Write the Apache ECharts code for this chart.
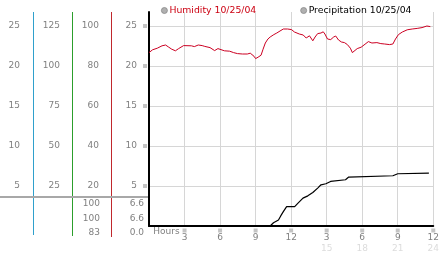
<!DOCTYPE html>
<html>
<head>
<meta charset="utf-8">
<script src="https://cdn.jsdelivr.net/npm/echarts@6/dist/echarts.min.js"></script>
<style>html,body{margin:0;padding:0;background:#fff;}#c{width:442px;height:253px;}</style>
</head>
<body>
<div id="c"></div>
<script>
// ---- data ----
const humidityHours = [0.0,0.3,0.7,1.1,1.4,1.67,1.92,2.23,2.5,2.92,3.58,3.83,4.16,4.49,4.71,5.15,5.54,5.82,6.37,6.81,7.14,7.47,7.89,8.3,8.55,8.86,9.0,9.21,9.46,9.63,9.82,10.04,10.23,10.54,10.79,11.06,11.34,11.7,12.03,12.28,12.69,13.02,13.27,13.55,13.83,14.02,14.24,14.52,14.71,14.85,15.07,15.34,15.59,15.76,16.0,16.25,16.5,16.75,17.0,17.17,17.33,17.58,17.91,18.24,18.52,18.82,19.24,19.57,19.9,20.31,20.59,20.81,21.06,21.39,21.8,22.22,22.64,23.05,23.46,23.75];
const humidity = [86.7,88.1,88.9,90.1,90.5,89.4,88.4,87.6,88.7,90.2,90.1,89.7,90.5,90.2,89.8,89.2,87.7,88.7,87.6,87.4,86.7,86.2,86.0,86.0,86.4,84.9,83.7,84.4,85.4,88.4,91.5,93.5,94.5,95.7,96.5,97.5,98.5,98.5,98.2,97.0,96.0,95.5,94.0,95.1,92.6,94.5,96.2,96.5,97.1,96.0,93.5,93.2,94.5,95.0,93.0,92.0,91.7,90.7,88.9,86.7,87.4,88.7,89.4,90.9,92.2,91.5,91.7,91.2,91.0,90.7,91.0,93.5,95.7,97.0,98.1,98.5,98.8,99.2,100.0,99.7];
const precipHours = [0,10.23,10.51,10.93,11.12,11.34,11.62,12.30,12.58,13.0,13.41,13.83,14.24,14.52,14.93,15.33,16.59,16.86,20.59,21.0,23.63];
const precip = [0,0,0.41,0.75,1.26,1.80,2.42,2.42,2.85,3.48,3.77,4.18,4.74,5.15,5.28,5.57,5.78,6.12,6.28,6.53,6.62];
const seriesNames = ['Humidity 10/25/04','Precipitation 10/25/04'];
const hourLabels = ['3','6','9','12','3','6','9','12'];
const hour24Labels = ['','','','','15','18','21','24'];
const xTickStep = 3;
const colMax = [26.75, 133.75, 107, 26.75];
const colInterval = [5, 25, 20, 5];
const humidityStats = ['100','100','83'];
const precipStats = ['6.6','6.6','0.0'];

// ---- chart ----
const FONT = 'DejaVu Sans';
const LBL = '#808080';
const chart = echarts.init(document.getElementById('c'), null, {renderer:'canvas'});
function zip(a,b){return a.map((v,i)=>[v,b[i]]);}
const markerStyle = {width:4, height:4, lineHeight:4, backgroundColor:'#c4c4c4', fontSize:4};

function colAxis(i, offset, margin, extra){
  return Object.assign({
    type:'value', position:'left', offset:offset, min:0, max:colMax[i], interval:colInterval[i],
    axisLine:{show:false}, axisTick:{show:false}, splitLine:{show:false},
    axisLabel:{show:true, margin:margin, showMinLabel:false, showMaxLabel:false,
      color:LBL, fontFamily:FONT, fontSize:9}
  }, extra||{});
}

const tableGraphics = [];
[humidityStats, precipStats].forEach((arr, c)=>{
  arr.forEach((t, r)=>{
    tableGraphics.push({type:'text', style:{text:t, x: c===0?100:144, y:[204,218.5,232.5][r],
      align:'right', verticalAlign:'middle', font:'9px "DejaVu Sans"', fill:LBL}});
  });
});

chart.setOption({
  animation:false,
  backgroundColor:'#fff',
  grid:{left:149, right:2, top:12, bottom:27, containLabel:false},
  legend:{
    left:156, top:1, icon:'circle', itemWidth:6, itemHeight:6, itemGap:44,
    itemStyle:{color:'#b0b0b0', borderColor:'#888', borderWidth:0.8},
    textStyle:{fontFamily:FONT, fontSize:9.3, padding:[0,0,0,-3]},
    data:[{name:seriesNames[0], textStyle:{color:'#cc0011'}},{name:seriesNames[1], textStyle:{color:'#000'}}]
  },
  xAxis:{
    type:'value', min:0, max:24, interval:xTickStep,
    axisLine:{show:true, onZero:false, lineStyle:{color:'#000', width:2}},
    axisTick:{show:false},
    splitLine:{show:true, showMinLine:false, lineStyle:{color:'#d6d6d6', width:1}},
    axisLabel:{
      margin:2, showMaxLabel:true, showMinLabel:true,
      formatter:function(v){
        if(v===0) return '{h|Hours}';
        const k = Math.round(v/xTickStep)-1;
        return '{m| }\n{a|'+hourLabels[k]+'}\n{b|'+(hour24Labels[k]||' ')+'}';
      },
      rich:{
        m:Object.assign({}, markerStyle, {lineHeight:5}),
        a:{fontFamily:FONT, fontSize:9, color:LBL, lineHeight:10},
        b:{fontFamily:FONT, fontSize:9, color:'#dcdcdc', lineHeight:11},
        h:{fontFamily:FONT, fontSize:9, color:LBL, lineHeight:8, padding:[0,0,0,35]}
      }
    }
  },
  yAxis:[
    colAxis(3, 0, 2, {
      axisLine:{show:true, lineStyle:{color:'#000', width:2}},
      splitLine:{show:true, showMinLine:false, showMaxLine:false, lineStyle:{color:'#d6d6d6', width:1}},
      axisLabel:{show:true, margin:2, showMinLabel:false, showMaxLabel:false,
        formatter:function(v){return '{a|'+v+'}{s| }{m| }';},
        rich:{a:{fontFamily:FONT, fontSize:9, color:LBL}, s:{width:6, fontSize:4}, m:markerStyle}}
    }),
    colAxis(2, 38, 12),
    colAxis(1, 77, 12),
    colAxis(0, 116, 13)
  ],
  series:[
    {name:seriesNames[0], type:'line', yAxisIndex:1, showSymbol:false, symbol:'none',
     data:zip(humidityHours, humidity), lineStyle:{color:'#cc0022', width:1}, itemStyle:{color:'#b0b0b0'}},
    {name:seriesNames[1], type:'line', yAxisIndex:0, showSymbol:false, symbol:'none',
     data:zip(precipHours, precip), lineStyle:{color:'#000', width:1.2}, itemStyle:{color:'#b0b0b0'}}
  ],
  graphic:[
    {type:'line', shape:{x1:33.5,y1:12,x2:33.5,y2:235}, style:{stroke:'#2fa0cc', lineWidth:1}},
    {type:'line', shape:{x1:72.5,y1:12,x2:72.5,y2:236}, style:{stroke:'#2c9e2c', lineWidth:1}},
    {type:'line', shape:{x1:111.5,y1:12,x2:111.5,y2:237}, style:{stroke:'#c0282d', lineWidth:1}},
    {type:'line', shape:{x1:0,y1:197,x2:149,y2:197}, style:{stroke:'#a8a8a8', lineWidth:2}}
  ].concat(tableGraphics)
});
</script>
</body>
</html>
